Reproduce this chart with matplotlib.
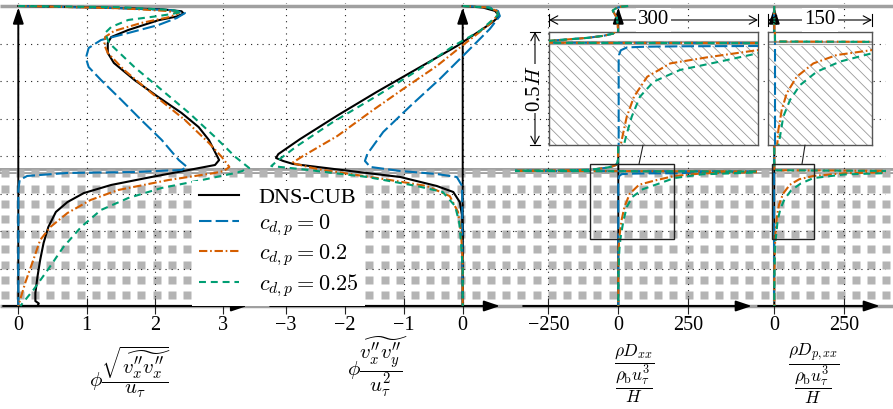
import numpy as np
import matplotlib
matplotlib.use("Agg")
import matplotlib.pyplot as plt
from matplotlib.patches import Rectangle, ConnectionPatch

plt.rcParams["font.family"] = ["Liberation Serif", "DejaVu Serif"]
plt.rcParams["mathtext.fontset"] = "cm"
plt.rcParams["lines.scale_dashes"] = False
plt.rcParams["hatch.linewidth"] = 0.6

# ---------------------------------------------------------------- data
# heights y/H (0 = bottom wall, 2 = top wall, canopy top at 0.9)
y_canopy = 0.9
y_top = 2.0
grid_y = [0.25, 0.5, 0.75, 1.0, 1.25, 1.5, 1.75]

# panel 1: phi * sqrt(v''x v''x) / u_tau
p1_dns_x = [0.00, 1.21, 2.10, 2.39, 2.42, 2.32, 2.05, 1.61, 1.36, 1.31, 1.31, 1.40, 1.70, 2.05, 2.39, 2.64,
            2.79, 2.88, 2.94, 2.88, 2.50, 1.95, 1.36, 0.96, 0.72, 0.55, 0.44, 0.37, 0.32, 0.28, 0.25, 0.25,
            0.30, 0.28, 0.00]
p1_dns_y = [2.000, 1.990, 1.978, 1.965, 1.950, 1.930, 1.905, 1.840, 1.793, 1.753, 1.687, 1.620, 1.507, 1.393,
            1.287, 1.193, 1.107, 1.027, 0.973, 0.940, 0.907, 0.860, 0.807, 0.753, 0.693, 0.627, 0.527, 0.420,
            0.307, 0.193, 0.087, 0.033, 0.017, 0.000, 0.000]
p1_c0_x = [0.00, 1.51, 2.25, 2.44, 2.32, 2.05, 1.61, 1.21, 1.03, 0.99, 1.03, 1.21, 1.51, 1.80, 2.10, 2.35,
           2.47, 2.39, 1.70, 0.72, 0.13, 0.02, 0.00, 0.00]
p1_c0_y = [2.000, 1.985, 1.972, 1.953, 1.920, 1.873, 1.820, 1.773, 1.720, 1.653, 1.593, 1.507, 1.373, 1.240,
           1.107, 0.973, 0.927, 0.907, 0.893, 0.887, 0.867, 0.840, 0.773, 0.000]
p1_c02_x = [0.00, 1.51, 2.17, 2.35, 2.22, 1.80, 1.40, 1.27, 1.26, 1.31, 1.55, 1.95, 2.44, 2.79, 2.98, 3.09,
            3.01, 2.88, 2.20, 1.46, 1.06, 0.72, 0.47, 0.32, 0.22, 0.10, 0.00]
p1_c02_y = [2.000, 1.985, 1.967, 1.953, 1.927, 1.887, 1.833, 1.793, 1.740, 1.687, 1.573, 1.420, 1.240, 1.087,
            0.993, 0.927, 0.900, 0.887, 0.840, 0.773, 0.707, 0.620, 0.527, 0.440, 0.307, 0.153, 0.000]
p1_c025_x = [0.00, 1.51, 2.25, 2.39, 2.25, 2.05, 1.61, 1.36, 1.27, 1.33, 1.70, 2.10, 2.50, 2.88, 3.18, 3.38,
             3.28, 3.18, 2.69, 2.10, 1.61, 1.21, 0.92, 0.66, 0.43, 0.22, 0.03]
p1_c025_y = [2.000, 1.992, 1.973, 1.960, 1.947, 1.933, 1.907, 1.860, 1.820, 1.753, 1.593, 1.440, 1.287, 1.127,
             0.993, 0.920, 0.900, 0.887, 0.840, 0.787, 0.720, 0.640, 0.527, 0.393, 0.240, 0.107, 0.000]

# panel 2: phi * v''x v''y / u_tau^2
p2_dns_x = [0.00, 0.34, 0.55, 0.62, 0.51, 0.34, -0.10, -0.78, -1.46, -2.14, -2.76, -3.13, -3.17, -3.05,
            -2.88, -1.91, -1.06, -0.44, -0.16, -0.05, -0.01, 0.00, 0.00]
p2_dns_y = [2.000, 1.990, 1.967, 1.933, 1.893, 1.847, 1.733, 1.580, 1.427, 1.267, 1.113, 1.013, 0.987, 0.967,
            0.947, 0.900, 0.860, 0.800, 0.760, 0.693, 0.600, 0.493, 0.000]
p2_c0_x = [0.00, 0.46, 0.60, 0.63, 0.46, 0.07, -0.39, -0.89, -1.35, -1.62, -1.66, -1.57, -1.06, -0.44,
           -0.10, -0.01, 0.00]
p2_c0_y = [2.000, 1.990, 1.967, 1.933, 1.847, 1.693, 1.513, 1.333, 1.160, 1.013, 0.967, 0.927, 0.900, 0.880,
           0.860, 0.800, 0.000]
p2_c02_x = [0.00, 0.43, 0.58, 0.60, 0.46, 0.29, 0.07, -0.44, -1.01, -1.57, -2.13, -2.71, -2.90, -2.47, -1.35,
            -0.61, -0.22, -0.08, -0.03, 0.00, 0.00]
p2_c02_y = [2.000, 1.990, 1.967, 1.940, 1.880, 1.827, 1.760, 1.600, 1.447, 1.293, 1.133, 1.000, 0.953, 0.913,
            0.847, 0.800, 0.733, 0.627, 0.493, 0.313, 0.000]
p2_c025_x = [0.00, 0.43, 0.58, 0.60, 0.29, -0.16, -0.78, -1.46, -2.20, -2.81, -3.15, -3.25, -2.76, -1.62,
             -0.78, -0.34, -0.13, -0.06, -0.03, 0.00, 0.00]
p2_c025_y = [2.000, 1.990, 1.967, 1.940, 1.833, 1.733, 1.567, 1.400, 1.227, 1.067, 0.967, 0.933, 0.913, 0.860,
             0.800, 0.760, 0.667, 0.560, 0.427, 0.247, 0.000]

# panel 3: rho D_xx / (rho_b u_tau^3 / H)
p3_c0_x = [35, 8, -8, -20, -14, -5, -1, 0, 0, -1, -3, -8, -22, -45, -70, -100, -200, -600,
           600, 300, 200, 100, 40, 12, 3, 0.5, 0, 0]
p3_c0_y = [2.000, 1.995, 1.985, 1.970, 1.950, 1.920, 1.850, 1.600, 1.100, 0.975, 0.955, 0.940, 0.930, 0.921,
           0.915, 0.908, 0.904, 0.901, 0.897, 0.889, 0.885, 0.884, 0.882, 0.879, 0.866, 0.845, 0.820, 0.000]
p3_c02_x = [35, 8, -8, -20, -14, -5, -1, 0, 0, -1, -3, -8, -22, -45, -70, -100, -200, -600,
            600, 300, 200, 127, 74, 41, 22, 11.6, 5.4, 3, 1.2, 0.3, 0, 0]
p3_c02_y = [2.000, 1.995, 1.985, 1.970, 1.950, 1.920, 1.850, 1.600, 1.100, 0.975, 0.955, 0.940, 0.930, 0.921,
            0.915, 0.908, 0.904, 0.901, 0.897, 0.884, 0.867, 0.835, 0.808, 0.749, 0.661, 0.572, 0.484, 0.447,
            0.380, 0.300, 0.200, 0.000]
p3_c025_x = [35, 8, -8, -20, -14, -5, -1, 0, 0, -1, -3, -8, -22, -45, -70, -100, -200, -600,
             600, 300, 200, 145, 88, 50, 30.6, 18.7, 10.5, 7.6, 4, 2, 0.5, 0, 0]
p3_c025_y = [2.000, 1.995, 1.985, 1.970, 1.950, 1.920, 1.850, 1.600, 1.100, 0.975, 0.955, 0.940, 0.930, 0.921,
             0.915, 0.908, 0.904, 0.901, 0.896, 0.878, 0.853, 0.816, 0.779, 0.727, 0.661, 0.572, 0.484, 0.447,
             0.380, 0.300, 0.200, 0.120, 0.000]

# panel 4: rho D_p,xx / (rho_b u_tau^3 / H)
p4_c0_x = [0, 0]
p4_c0_y = [2.000, 0.000]
p4_c02_x = [0, 0, 600, 250, 140, 89, 55.4, 31.4, 17, 9.8, 4.9, 3.5, 2, 1, 0, 0]
p4_c02_y = [2.000, 0.905, 0.899, 0.885, 0.867, 0.845, 0.808, 0.749, 0.676, 0.602, 0.513, 0.454, 0.380, 0.300,
            0.200, 0.000]
p4_c025_x = [0, 0, 600, 250, 140, 93.8, 60.2, 36.2, 21.7, 12, 7.3, 5.4, 3, 1.5, 0.5, 0, 0]
p4_c025_y = [2.000, 0.905, 0.898, 0.877, 0.853, 0.816, 0.771, 0.712, 0.646, 0.572, 0.484, 0.454, 0.380, 0.300,
             0.200, 0.120, 0.000]

case_labels = ["DNS-CUB", r"$c_{d,p} = 0$", r"$c_{d,p} = 0.2$", r"$c_{d,p} = 0.25$"]

p1_ticks = [0, 1, 2, 3]
p2_ticks = [-3, -2, -1, 0]
p3_ticks = [-250, 0, 250]
p4_ticks = [0, 250]

# zoom windows (value range, height range) for the two insets
zoom3_x = (-100, 200)
zoom4_x = (-10, 140)
zoom_y = (0.447, 0.947)

x_labels = [
    r"$\phi\dfrac{\sqrt{\widetilde{v_x^{\prime\prime}v_x^{\prime\prime}}}}{u_\tau}$",
    r"$\phi\dfrac{\widetilde{v_x^{\prime\prime}v_y^{\prime\prime}}}{u_\tau^2}$",
    r"$\dfrac{\rho D_{xx}}{\dfrac{\rho_\mathrm{b} u_\tau^3}{H}}$",
    r"$\dfrac{\rho D_{p,xx}}{\dfrac{\rho_\mathrm{b} u_\tau^3}{H}}$",
]
x_label_sizes = [15, 15, 12.5, 12.5]

# ---------------------------------------------------------------- styles
W, H = 893, 409
BLUE, ORANGE, GREEN = "#0072B2", "#D55E00", "#009E73"
styles = [
    dict(color="black", lw=1.5, ls="-"),
    dict(color=BLUE, lw=1.5, ls=(0, (9, 3))),
    dict(color=ORANGE, lw=1.5, ls=(0, (6, 2, 1.2, 2))),
    dict(color=GREEN, lw=1.5, ls=(0, (5, 3.5))),
]
GRAY = "#a0a0a0"
SQUARE = "#b4b4b4"

fig = plt.figure(figsize=(W / 100, H / 100), dpi=100)

# vertical placement: y=0 at pixel row 306, 150 px per unit height
y_lim = (-0.02, 2.02)
ax_bottom = 1 - 309 / H
ax_height = 306 / H

# ---------------------------------------------------------------- background: walls, canopy, cubes
bg = fig.add_axes([0, ax_bottom, 1, ax_height])
bg.set_xlim(0, W)
bg.set_ylim(*y_lim)
bg.axis("off")
bg.plot([0, W], [y_top, y_top], color=GRAY, lw=2.5, solid_capstyle="butt")
bg.plot([0, W], [0, 0], color=GRAY, lw=2.5, solid_capstyle="butt")
bg.plot([0, W], [y_canopy, y_canopy], color=GRAY, lw=4.3, solid_capstyle="butt")
bg.plot([0, W], [y_canopy, y_canopy], color="white", lw=0.9, solid_capstyle="butt")
sq_x = np.arange(4.65, W, 15.2)
sq_y = (306 - (295 - 15.2 * np.arange(9))) / 150
SX, SY = np.meshgrid(sq_x, sq_y)
bg.plot(SX.ravel(), SY.ravel(), ls="none", marker="s", ms=5.4, mfc=SQUARE, mec="none")

# ---------------------------------------------------------------- panels
panels = [
    dict(px=(0, 262), zero=18.3, scale=68.3, ticks=p1_ticks, axis=(-0.224, 3.35),
         curves=[(p1_dns_x, p1_dns_y), (p1_c0_x, p1_c0_y), (p1_c02_x, p1_c02_y), (p1_c025_x, p1_c025_y)]),
    dict(px=(262, 515), zero=462.7, scale=58.9, ticks=p2_ticks, axis=(-3.27, 0.633),
         curves=[(p2_dns_x, p2_dns_y), (p2_c0_x, p2_c0_y), (p2_c02_x, p2_c02_y), (p2_c025_x, p2_c025_y)]),
    dict(px=(515, 757), zero=618.3, scale=0.28, ticks=p3_ticks, axis=(-340, 477),
         curves=[None, (p3_c0_x, p3_c0_y), (p3_c02_x, p3_c02_y), (p3_c025_x, p3_c025_y)]),
    dict(px=(757, 886), zero=774.3, scale=0.28, ticks=p4_ticks, axis=(-58, 377),
         curves=[None, (p4_c0_x, p4_c0_y), (p4_c02_x, p4_c02_y), (p4_c025_x, p4_c025_y)]),
]
label_pos = [(130, 372), (378, 367), (634, 374), (814, 374)]

arrow_kw = dict(arrowstyle="-|>,head_length=0.95,head_width=0.32", mutation_scale=10, lw=1.4,
                color="black", shrinkA=0, shrinkB=0)

axes = []
handles = []
for i, p in enumerate(panels):
    l, r = p["px"]
    ax = fig.add_axes([l / W, ax_bottom, (r - l) / W, ax_height])
    ax.set_xlim((l - p["zero"]) / p["scale"], (r - p["zero"]) / p["scale"])
    ax.set_ylim(*y_lim)
    ax.patch.set_visible(False)
    for s in ["top", "left", "right"]:
        ax.spines[s].set_visible(False)
    ax.spines["bottom"].set_position(("data", 0))
    ax.spines["bottom"].set_visible(False)
    ax.set_xticks(p["ticks"])
    ax.set_yticks(grid_y)
    ax.tick_params(axis="y", left=False, labelleft=False)
    ax.tick_params(axis="x", direction="inout", length=11, width=0.8, color="#222222",
                   pad=1.5, labelsize=14.5)
    ax.grid(True, ls=(0, (0.8, 3.6)), color="#222222", lw=0.8)
    # axis arrows
    ax.annotate("", xy=(p["axis"][1], 0), xytext=(p["axis"][0], 0), arrowprops=arrow_kw,
                zorder=2, annotation_clip=False)
    ax.annotate("", xy=(0, 1.99), xytext=(0, 0), arrowprops=arrow_kw, zorder=2,
                annotation_clip=False)
    for k, c in enumerate(p["curves"]):
        if c is None:
            continue
        (ln,) = ax.plot(c[0], c[1], zorder=3, solid_joinstyle="round", **styles[k])
        if i == 0:
            handles.append(ln)
    fig.text(label_pos[i][0] / W, 1 - label_pos[i][1] / H, x_labels[i], ha="center", va="center",
             fontsize=x_label_sizes[i])
    axes.append(ax)

# ---------------------------------------------------------------- zoom insets
def inset(ax_main, curves, xr, box_px, conn):
    l, t, r, b = box_px
    ins = fig.add_axes([l / W, 1 - b / H, (r - l) / W, (b - t) / H])
    ins.set_xlim(*xr)
    ins.set_ylim(*zoom_y)
    ins.set_xticks([])
    ins.set_yticks([])
    for s in ins.spines.values():
        s.set_color("#555555")
        s.set_linewidth(1.0)
    ins.add_patch(Rectangle((xr[0], zoom_y[0]), xr[1] - xr[0], 0.886 - zoom_y[0], facecolor="white",
                            edgecolor="#9a9a9a", hatch="\\\\\\", lw=0, zorder=0.5))
    ins.axhline(y_canopy, color=GRAY, lw=3.0, zorder=1)
    ins.axhline(y_canopy, color="white", lw=0.6, zorder=1.1)
    for k, c in enumerate(curves):
        if c is None:
            continue
        ins.plot(c[0], c[1], zorder=3, solid_joinstyle="round", **styles[k])
    # window outline in the main panel and its connector
    ax_main.add_patch(Rectangle((xr[0], zoom_y[0]), xr[1] - xr[0], zoom_y[1] - zoom_y[0], fill=False,
                                edgecolor="#222222", lw=1.0, zorder=4))
    con = ConnectionPatch(xyA=(conn[0], zoom_y[1]), coordsA=ax_main.transData,
                          xyB=(conn[1], 0), coordsB=ins.transAxes, color="#222222", lw=0.8)
    fig.add_artist(con)
    # width dimension above the inset
    yf = 1 + 12 / (b - t)
    dh = 6 / (b - t)
    ins.annotate("", xy=(1, yf), xytext=(0, yf), xycoords="axes fraction",
                 arrowprops=dict(arrowstyle="<->,head_length=0.55,head_width=0.3", mutation_scale=10,
                                 lw=0.8, color="black", shrinkA=0, shrinkB=0), annotation_clip=False)
    for xe in (0, 1):
        ins.plot([xe, xe], [yf - dh, yf + dh], transform=ins.transAxes, clip_on=False, color="black", lw=0.8)
    ins.text(0.5, yf, f"{xr[1] - xr[0]:.0f}", transform=ins.transAxes, ha="center", va="center",
             fontsize=15, zorder=5, bbox=dict(fc="white", ec="none", pad=1.5))
    return ins

ins3 = inset(axes[2], panels[2]["curves"], zoom3_x, (549, 32, 758, 145), (74, 0.45))
ins4 = inset(axes[3], panels[3]["curves"], zoom4_x, (768, 32, 872, 145), (99, 0.356))

# height dimension left of the first inset
xf = (535 - 549) / 209
dw = 5 / 209
ins3.annotate("", xy=(xf, 1), xytext=(xf, 0), xycoords="axes fraction",
              arrowprops=dict(arrowstyle="<->,head_length=0.55,head_width=0.3", mutation_scale=10,
                              lw=0.8, color="black", shrinkA=0, shrinkB=0), annotation_clip=False)
for ye in (0, 1):
    ins3.plot([xf - dw, xf + dw], [ye, ye], transform=ins3.transAxes, clip_on=False, color="black", lw=0.8)
ins3.text(xf, 0.5, f"{zoom_y[1] - zoom_y[0]:.1f}$H$", transform=ins3.transAxes, rotation=90,
          ha="center", va="center", fontsize=15, zorder=5, bbox=dict(fc="white", ec="none", pad=1.0))

# ---------------------------------------------------------------- legend
fig.legend(handles, case_labels, loc="upper left", bbox_to_anchor=(192 / W, 1 - 181 / H),
           frameon=True, facecolor="white", edgecolor="none", framealpha=1, fancybox=False,
           fontsize=16, handlelength=1.8, handletextpad=0.9, labelspacing=0.2, borderpad=0.3,
           borderaxespad=0)

fig.savefig("out.png", dpi=100)
